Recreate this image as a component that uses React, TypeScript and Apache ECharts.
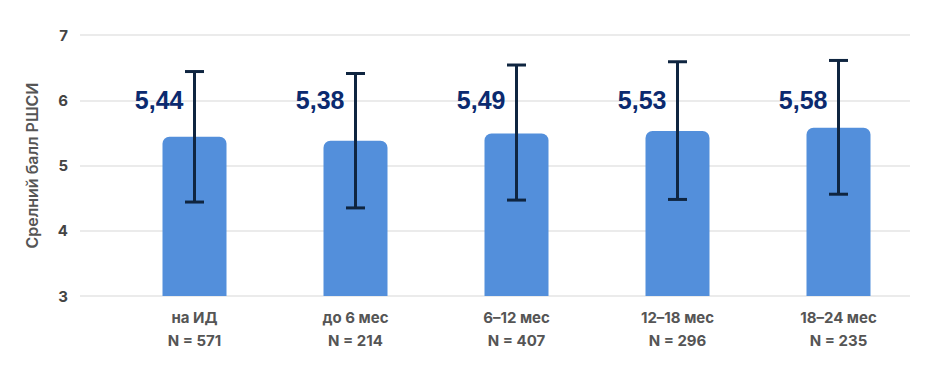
import React, { useEffect, useRef } from "react";
import * as echarts from "echarts";

const categories = ["на ИД", "до 6 мес", "6–12 мес", "12–18 мес", "18–24 мес"];
const sampleSizes = ["N = 571", "N = 214", "N = 407", "N = 296", "N = 235"];
const means = [5.44, 5.38, 5.49, 5.53, 5.58];
const errHigh = [6.44, 6.41, 6.54, 6.59, 6.61];
const errLow = [4.44, 4.35, 4.47, 4.48, 4.56];
const meanLabels = ["5,44", "5,38", "5,49", "5,53", "5,58"];
const labelLevel = 6;

const FONT = "Inter, 'Noto Sans', sans-serif";
const VALUE_FONT = "'Liberation Sans', Arial, sans-serif";

export default function App() {
  const ref = useRef<HTMLDivElement>(null);
  useEffect(() => {
    document.body.style.margin = "0";
    if (!ref.current) return;
    const chart = echarts.init(ref.current, null, { renderer: "svg" });
    const option: any = {
      animation: false,
      backgroundColor: "#ffffff",
      textStyle: { fontFamily: FONT },
      grid: [
        { left: 80, right: 30, top: 35, bottom: 84 },
        { left: 114, right: 21, top: 35, bottom: 84 },
      ],
      xAxis: [
        { type: "value", gridIndex: 0, show: false, min: 0, max: 1 },
        {
          type: "category",
          gridIndex: 1,
          data: categories,
          axisLine: { show: false },
          axisTick: { show: false },
          axisLabel: {
            margin: 10,
            formatter: (v: string, i: number) => `{a|${v}}\n{b|${sampleSizes[i]}}`,
            rich: {
              a: { fontSize: 15, fontWeight: "bold", color: "#555555", lineHeight: 23, fontFamily: FONT },
              b: { fontSize: 15, fontWeight: "bold", color: "#555555", lineHeight: 23, fontFamily: FONT },
            },
          },
        },
      ],
      yAxis: [
        {
          type: "value",
          gridIndex: 0,
          min: 3,
          max: 7,
          interval: 1,
          name: "Срелний балл РШСИ",
          nameLocation: "middle",
          nameGap: 40,
          nameTextStyle: { fontSize: 16, fontWeight: 600, color: "#555555", fontFamily: FONT },
          axisLine: { show: false },
          axisTick: { show: false },
          axisLabel: { fontSize: 15, fontWeight: "bold", color: "#444444", margin: 12, fontFamily: FONT },
          splitLine: { lineStyle: { color: "#e4e4e4", width: 1.5 } },
        },
        {
          type: "value",
          gridIndex: 1,
          min: 3,
          max: 7,
          interval: 1,
          show: false,
          splitLine: { show: false },
        },
      ],
      series: [
        {
          type: "bar",
          xAxisIndex: 1,
          yAxisIndex: 1,
          data: means,
          barWidth: 64,
          itemStyle: { color: "#538fdb", borderRadius: [7, 7, 0, 0] },
          z: 2,
        },
        {
          type: "custom",
          xAxisIndex: 1,
          yAxisIndex: 1,
          data: categories.map((_, i) => [i, errLow[i], errHigh[i]]),
          z: 4,
          renderItem: (params: any, api: any) => {
            const idx = api.value(0);
            const top = api.coord([idx, api.value(2)]);
            const bot = api.coord([idx, api.value(1)]);
            const hw = 9.5;
            const style = { stroke: "#0f2540", lineWidth: 3 };
            return {
              type: "group",
              children: [
                { type: "line", shape: { x1: top[0], y1: top[1], x2: bot[0], y2: bot[1] }, style },
                { type: "line", shape: { x1: top[0] - hw, y1: top[1], x2: top[0] + hw, y2: top[1] }, style },
                { type: "line", shape: { x1: bot[0] - hw, y1: bot[1], x2: bot[0] + hw, y2: bot[1] }, style },
              ],
            };
          },
        },
        {
          type: "scatter",
          xAxisIndex: 1,
          yAxisIndex: 1,
          symbolSize: 0,
          itemStyle: { opacity: 1 },
          data: categories.map(() => labelLevel),
          z: 5,
          label: {
            show: true,
            position: "left",
            distance: 11,
            opacity: 1,
            formatter: (p: any) => meanLabels[p.dataIndex],
            fontSize: 25,
            fontWeight: "bold",
            color: "#0b2a6f",
            fontFamily: VALUE_FONT,
          },
        },
      ],
    };
    chart.setOption(option);
    return () => chart.dispose();
  }, []);
  return <div ref={ref} style={{ width: 940, height: 380 }} />;
}
